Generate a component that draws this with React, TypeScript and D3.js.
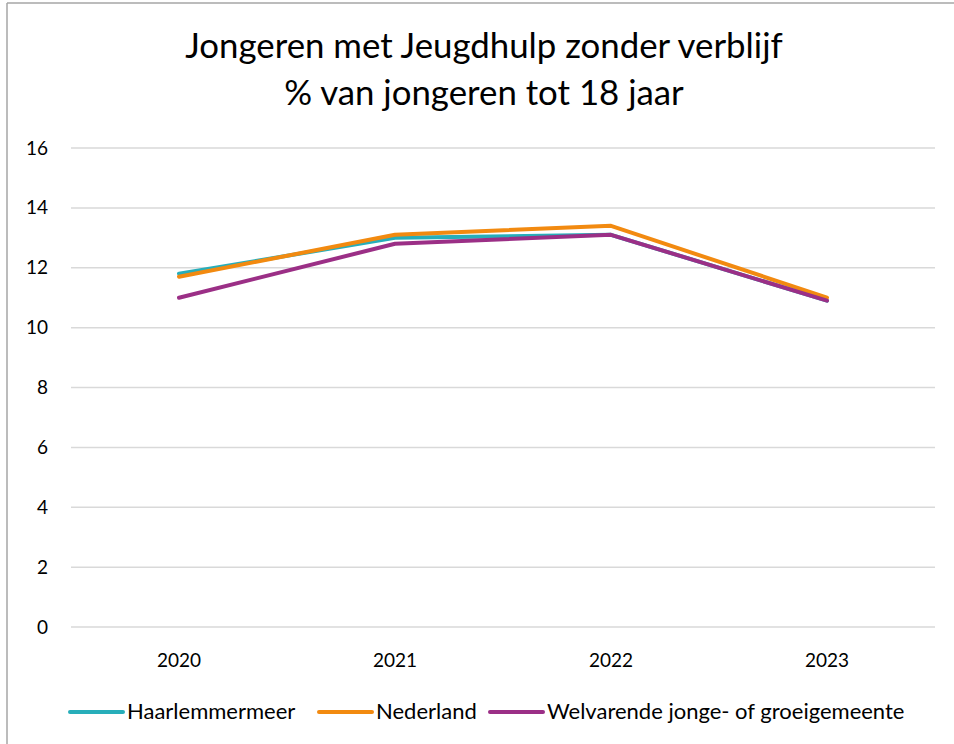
import React from "react";
import * as d3 from "d3";

const years = ["2020", "2021", "2022", "2023"];
const haarlemmermeer = [11.8, 13.0, 13.1, 10.9];
const nederland = [11.7, 13.1, 13.4, 11.0];
const welvarende = [11.0, 12.8, 13.1, 10.9];
const yTicks = [0, 2, 4, 6, 8, 10, 12, 14, 16];

const seriesList = [
  { name: "Haarlemmermeer", values: haarlemmermeer, color: "#27aeba" },
  { name: "Nederland", values: nederland, color: "#f28a10" },
  { name: "Welvarende jonge- of groeigemeente", values: welvarende, color: "#9b2f86" },
];

const W = 954, H = 744;
const left = 71, right = 935, top = 148, bottom = 627;
const font = "Lato, 'Open Sans', sans-serif";

const App = () => {
  const x = d3.scaleBand().domain(years).range([left, right]);
  const y = d3.scaleLinear().domain([0, 16]).range([bottom, top]);
  const line = d3.line<number>()
    .x((_, i) => x(years[i])! + x.bandwidth() / 2)
    .y((d) => y(d));

  // legend layout (x start of each swatch)
  const legendX = [68, 317, 488];

  return (
    <svg width={W} height={H} style={{ position: "absolute", left: 0, top: 0, background: "#fff" }}>
      <rect x={0} y={0} width={W} height={H} fill="#fff" />
      <line x1={7} x2={7} y1={3} y2={H} stroke="#a6a6a6" strokeWidth={1.5} />
      <line x1={7} x2={W} y1={3} y2={3} stroke="#a6a6a6" strokeWidth={1.5} />

      <text x={484} y={58} textAnchor="middle" fontFamily={font} fontSize={34.8} fill="#000">
        Jongeren met Jeugdhulp zonder verblijf
      </text>
      <text x={484} y={105} textAnchor="middle" fontFamily={font} fontSize={34.8} fill="#000">
        % van jongeren tot 18 jaar
      </text>

      {yTicks.map((t) => (
        <g key={t}>
          <line x1={left} x2={right} y1={y(t)} y2={y(t)} stroke="#d9d9d9" strokeWidth={1.5} />
          <text x={48} y={y(t) + 6.5} textAnchor="end" fontFamily={font} fontSize={19} fill="#000">
            {t}
          </text>
        </g>
      ))}

      {years.map((yr) => (
        <text key={yr} x={x(yr)! + x.bandwidth() / 2} y={667} textAnchor="middle" fontFamily={font} fontSize={19} fill="#000">
          {yr}
        </text>
      ))}

      {seriesList.map((s) => (
        <path key={s.name} d={line(s.values)!} fill="none" stroke={s.color} strokeWidth={4} strokeLinejoin="round" strokeLinecap="round" />
      ))}

      {seriesList.map((s, i) => (
        <g key={s.name} transform={`translate(${legendX[i]},712)`}>
          <line x1={2} x2={55} y1={0} y2={0} stroke={s.color} strokeWidth={4} strokeLinecap="round" />
          <text x={59} y={7} fontFamily={font} fontSize={22} fill="#000">
            {s.name}
          </text>
        </g>
      ))}
    </svg>
  );
};

export default App;
